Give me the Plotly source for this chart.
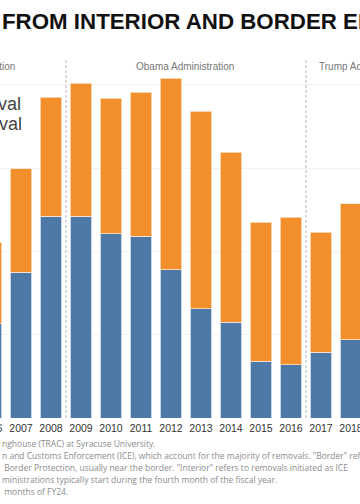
import plotly.graph_objects as go

years = list(range(2006, 2019))
interior = [113, 175, 242, 242, 221, 218, 178, 131, 115, 68, 64, 79, 94]
border = [98, 124, 143, 160, 163, 173, 230, 237, 204, 167, 177, 144, 163]
tick_labels = [str(y) for y in years]
admin_names = ["Bush Administration", "Obama Administration", "Trump Administration"]
legend_names = ["Border Removal", "Interior Removal"]
notes = [
    "nghouse (TRAC) at Syracuse University.",
    "n and Customs Enforcement (ICE), which account for the majority of removals. \"Border\" refers to removals initiated by U.S. Customs and",
    " Border Protection, usually near the border. \"Interior\" refers to removals initiated as ICE",
    "ministrations typically start during the fourth month of the fiscal year.",
    " months of FY24.",
]

W, H = 360, 504
T, B = 58, 418
PH = B - T


def px(x):
    return x / W


def py(y):
    return (B - y) / PH


BLUE = "#4e79a7"
ORANGE = "#f28e2b"

fig = go.Figure()
fig.add_bar(x=years, y=[v * 1000 for v in interior], name=legend_names[1],
            marker=dict(color=BLUE, line=dict(color="#e8eef5", width=0.8)), width=0.73)
fig.add_bar(x=years, y=[v * 1000 for v in border], name=legend_names[0],
            marker=dict(color=ORANGE, line=dict(color="#f7e3cf", width=0.8)), width=0.73)

fig.update_layout(
    width=W, height=H,
    margin=dict(l=0, r=0, t=T, b=H - B, pad=0, autoexpand=False),
    barmode="stack",
    plot_bgcolor="white", paper_bgcolor="white",
    showlegend=False,
    hovermode=False,
    font=dict(family="Liberation Sans, Arial, sans-serif"),
    xaxis=dict(range=[2006.3, 2018.3], tickmode="array", tickvals=years, ticktext=tick_labels,
               tickfont=dict(size=10.5, color="#333333"), showgrid=False, zeroline=False,
               ticks="", showline=False, ticklabelstandoff=2, ticklabeloverflow="allow",
               automargin=False),
    yaxis=dict(range=[0, PH / 83.33 * 100000], dtick=100000, tick0=0, gridcolor="#f2f2f2",
               gridwidth=1, showticklabels=False, zeroline=False, ticks="", automargin=False),
)

for xv in [2008.5, 2016.5]:
    fig.add_shape(type="line", xref="x", yref="paper", x0=xv, x1=xv, y0=0, y1=1,
                  line=dict(color="#cfcfcf", width=1.5, dash="3px,2px"))

ann = []
ann.append(dict(text="<b>FROM INTERIOR AND BORDER ENFORCEMENT</b>", x=px(-0.5), y=py(22),
                xanchor="left", yanchor="middle",
                font=dict(size=22.3, color="#111111", family="Liberation Sans, Arial")))
ann.append(dict(text=admin_names[0], x=px(17), y=py(66), xanchor="right", yanchor="middle",
                font=dict(size=10, color="#777777")))
ann.append(dict(text=admin_names[1], x=px(185), y=py(66), xanchor="center", yanchor="middle",
                font=dict(size=10, color="#777777")))
ann.append(dict(text=admin_names[2], x=px(317), y=py(66), xanchor="left", yanchor="middle",
                font=dict(size=10, color="#777777")))
ann.append(dict(text=legend_names[0], x=px(22.5), y=py(104), xanchor="right", yanchor="middle",
                font=dict(size=18, color="#444444")))
ann.append(dict(text=legend_names[1], x=px(23.5), y=py(124), xanchor="right", yanchor="middle",
                font=dict(size=18, color="#444444")))
# partially visible first year label (its tick is just outside the visible range)
ann.append(dict(text=tick_labels[0], x=px(-9), y=py(428), xanchor="center", yanchor="middle",
                font=dict(size=10.5, color="#333333")))
for i, line in enumerate(notes):
    ann.append(dict(text=line, x=px(0), y=py(443 + 12 * i), xanchor="left", yanchor="middle",
                    font=dict(size=8.5, color="#8c8c8c", family="Open Sans, Noto Sans, sans-serif")))
for a in ann:
    a.update(xref="paper", yref="paper", showarrow=False)
fig.update_layout(annotations=ann)

fig.write_html("out.html", config={"displayModeBar": False, "staticPlot": True},
               post_script="document.body.style.margin='0';document.body.style.overflow='hidden';")
